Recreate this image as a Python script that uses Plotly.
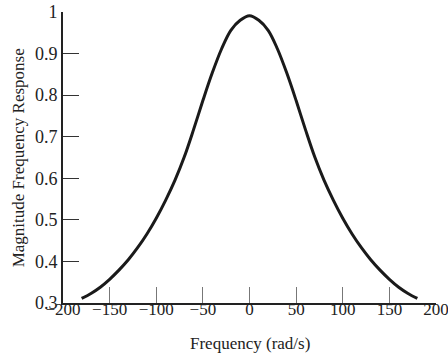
import plotly.graph_objects as go

freq = [-180, -170, -160, -150, -140, -130, -120, -110, -100, -90, -80, -70, -60, -50, -40, -30, -20, -10,
        0, 10, 20, 30, 40, 50, 60, 70, 80, 90, 100, 110, 120, 130, 140, 150, 160, 170, 180]
magnitude = [0.311, 0.323, 0.338, 0.357, 0.379, 0.404, 0.433, 0.466, 0.504, 0.547, 0.595, 0.651,
             0.717, 0.787, 0.853, 0.911, 0.956, 0.980, 0.991, 0.980, 0.956, 0.911, 0.853, 0.787,
             0.717, 0.651, 0.595, 0.547, 0.504, 0.466, 0.433, 0.404, 0.379, 0.357, 0.338, 0.323, 0.311]

x_ticks = [-200, -150, -100, -50, 0, 50, 100, 150, 200]
y_ticks = [0.3, 0.4, 0.5, 0.6, 0.7, 0.8, 0.9, 1.0]
y_tick_text = ["0.3", "0.4", "0.5", "0.6", "0.7", "0.8", "0.9", "1"]
x_title = "Frequency (rad/s)"
y_title = "Magnitude Frequency Response"

family = "Liberation Serif, Times New Roman, serif"
font = dict(family=family, size=17, color="#222")
x_tick_font = dict(family=family, size=17, color="#222")
y_tick_font = dict(family=family, size=18, color="#222")

fig = go.Figure()
fig.add_trace(go.Scatter(x=freq, y=magnitude, mode="lines",
                         line=dict(color="#1a1a1a", width=3, shape="spline", smoothing=1.0),
                         showlegend=False, hoverinfo="skip"))

fig.update_layout(
    width=448, height=356,
    margin=dict(l=63, r=12, t=12, b=53, autoexpand=False),
    paper_bgcolor="white", plot_bgcolor="white",
    font=font,
    annotations=[
        dict(text=x_title, xref="x", yref="paper", x=0, y=-0.1375,
             xanchor="center", yanchor="middle", showarrow=False, font=font),
        dict(text=y_title, xref="paper", yref="paper", x=-0.1185, y=0.5, textangle=-90,
             xanchor="center", yanchor="middle", showarrow=False, font=font),
    ],
)
fig.update_xaxes(
    range=[-200, 200], tickvals=x_ticks, ticks="inside", ticklen=16,
    tickcolor="#777", tickwidth=1, showline=True, linecolor="#222", linewidth=2,
    showgrid=False, zeroline=False, tickfont=x_tick_font, ticklabeloverflow="allow",
    ticklabelstandoff=-10, automargin=False,
)
fig.update_yaxes(
    range=[0.3, 1.0], tickvals=y_ticks, ticktext=y_tick_text, ticks="inside", ticklen=16,
    tickcolor="#333", tickwidth=1.3, showline=True, linecolor="#222", linewidth=2,
    showgrid=False, zeroline=False, tickfont=y_tick_font, ticklabelstandoff=0,
    ticklabeloverflow="allow", automargin=False,
)
fig.write_html("out.html", config={"displayModeBar": False},
               post_script="document.body.style.margin='0';")
